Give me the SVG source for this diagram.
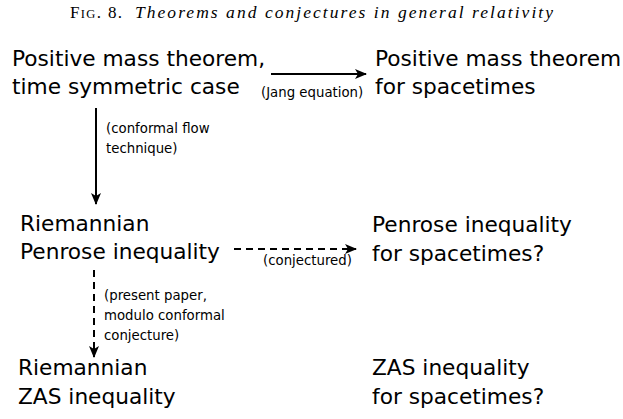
<svg xmlns="http://www.w3.org/2000/svg" width="623" height="419" viewBox="0 0 623 419">
<defs>
<style>
.t{font-family:"DejaVu Sans",sans-serif;font-size:21.7px;fill:#000}
.s{font-family:"DejaVu Sans",sans-serif;font-size:13.3px;fill:#000}
.c{font-family:"Liberation Serif","DejaVu Serif",serif;fill:#000}
.ln{stroke:#000;stroke-width:2;fill:none}
.d{stroke-dasharray:7,5}
</style>
<marker id="ah" viewBox="0 0 12 10" refX="11" refY="5" markerWidth="12" markerHeight="10" markerUnits="userSpaceOnUse" orient="auto">
<path d="M0,0 L12,5 L0,10 L3,5 z" fill="#000"/>
</marker>
</defs>
<text class="c" x="70" y="18" font-size="17" textLength="52" lengthAdjust="spacing"><tspan>F</tspan><tspan font-size="12.5">IG</tspan><tspan>. 8.</tspan></text>
<text class="c" x="135" y="18" font-size="17.5" font-style="italic" textLength="418" lengthAdjust="spacing">Theorems and conjectures in general relativity</text>
<g id="node-pmt-ts">
<text class="t" x="12" y="66">Positive mass theorem,</text>
<text class="t" x="12" y="94">time symmetric case</text>
</g>
<g id="node-pmt-st">
<text class="t" x="375" y="66">Positive mass theorem</text>
<text class="t" x="375" y="94">for spacetimes</text>
</g>
<g id="node-rpi">
<text class="t" x="20" y="231">Riemannian</text>
<text class="t" x="20" y="259">Penrose inequality</text>
</g>
<g id="node-pi-st">
<text class="t" x="372" y="232">Penrose inequality</text>
<text class="t" x="372" y="261">for spacetimes?</text>
</g>
<g id="node-rzas">
<text class="t" x="18" y="375">Riemannian</text>
<text class="t" x="18" y="404">ZAS inequality</text>
</g>
<g id="node-zas-st">
<text class="t" x="372" y="375">ZAS inequality</text>
<text class="t" x="372" y="404">for spacetimes?</text>
</g>
<g id="connectors">
<line class="ln" x1="271" y1="74" x2="366" y2="74" marker-end="url(#ah)"/>
<text class="s" x="261" y="97" font-size="12.5">(Jang equation)</text>
<line class="ln" x1="96" y1="108" x2="96" y2="204" marker-end="url(#ah)"/>
<text class="s" x="106" y="133">(conformal flow</text>
<text class="s" x="106" y="153">technique)</text>
<line class="ln d" x1="234" y1="249" x2="356" y2="249" marker-end="url(#ah)"/>
<text class="s" x="263" y="265" font-size="10">(conjectured)</text>
<line class="ln d" x1="94" y1="270" x2="94" y2="357" marker-end="url(#ah)"/>
<text class="s" x="104" y="300">(present paper,</text>
<text class="s" x="104" y="320">modulo conformal</text>
<text class="s" x="104" y="340">conjecture)</text>
</g>
</svg>
